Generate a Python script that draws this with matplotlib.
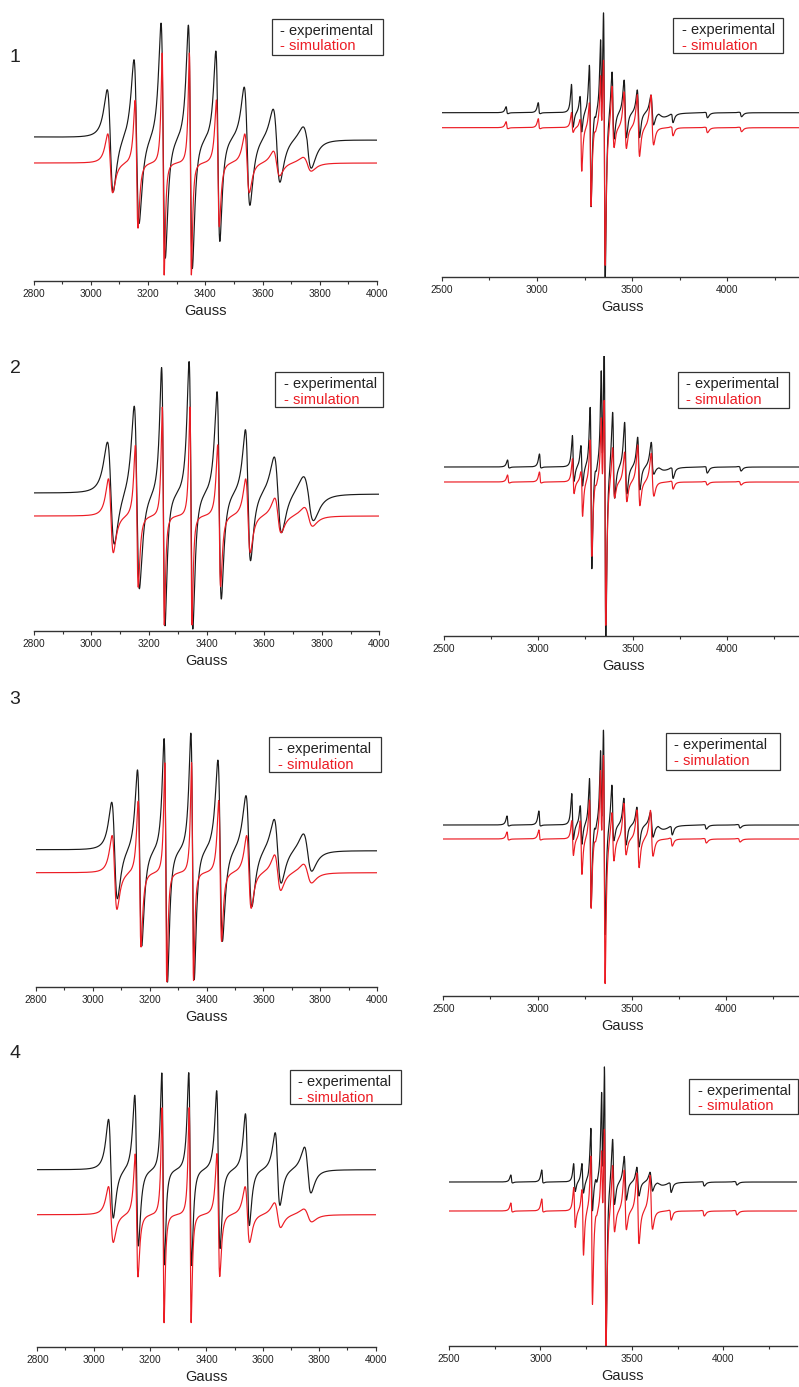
## EPR spectra: experimental vs simulation, four samples

import numpy as np
import matplotlib.pyplot as plt
from matplotlib.patches import Rectangle

plt.rcParams['font.family'] = ['Liberation Sans', 'DejaVu Sans']

W, H = 799, 1387

# ---- room temperature spectra (left column), 8 hyperfine lines ----
rt_centers = [
    [3068, 3160, 3253, 3348, 3444, 3546, 3649, 3756],
    [3068, 3158, 3250, 3346, 3444, 3544, 3648, 3754],
    [3077, 3165, 3257, 3351, 3448, 3549, 3650, 3755],
    [3061, 3152, 3246, 3342, 3442, 3545, 3652, 3759],
]
rt_pp_exp = [
    [21, 18, 15, 14, 14, 20, 24, 29],
    [24, 18, 12, 13, 15, 18, 26, 35],
    [20, 15, 12, 12, 16, 21, 25, 30],
    [17, 13, 9, 10, 12, 14, 17, 23],
]
rt_top_exp = [
    [47, 79, 116, 114, 88, 52, 31, 14],
    [50, 89, 127, 132, 102, 64, 37, 19],
    [47, 81, 112, 117, 90, 55, 32, 18],
    [50, 75, 97, 97, 79, 56, 37, 23],
]
rt_bot_exp = [
    [56, 86, 120, 130, 103, 67, 43, 28],
    [53, 95, 132, 136, 106, 68, 40, 26],
    [50, 96, 132, 130, 92, 57, 33, 20],
    [49, 76, 95, 96, 79, 56, 36, 23],
]
rt_pp_sim = [17, 10, 7, 7, 10, 16, 22, 29]
rt_top_sim = [
    [29, 63, 110, 110, 63, 29, 12, 6],
    [37, 71, 109, 109, 71, 37, 18, 9],
    [37, 72, 110, 110, 72, 37, 18, 9],
    [28, 61, 107, 107, 61, 28, 12, 6],
]
rt_bot_sim = [
    [30, 65, 112, 112, 64, 30, 13, 8],
    [37, 71, 109, 109, 71, 37, 17, 10],
    [37, 74, 109, 108, 69, 36, 18, 10],
    [28, 62, 108, 108, 62, 28, 13, 7],
]
rt_base_exp = [(144, 141), (138, 137), (137, 136), (177, 177)]
rt_base_sim = [118, 115, 114, 132]

# ---- frozen solution spectra (right column) ----
fz_centers = [2843, 3012, 3186, 3231, 3280, 3305, 3338, 3354,
              3400, 3464, 3533, 3606, 3640, 3709, 3889, 4068]
fz_pp = [10, 10, 9, 9, 9, 8, 8, 9, 11, 12, 12, 14, 60, 12, 14, 14]
fz_top_exp = [
    [6, 10, 28, 16, 47, 3, 58, 110, 44, 33, 23, 18, 0, 1, 0.5, 0.5],
    [7, 13, 31, 21, 59, 3, 78, 133, 58, 45, 30, 25, 0, 1, 0.5, 0.5],
    [9, 14, 31, 19, 46, 3, 60, 105, 42, 27, 18, 13, 0, 1, 0.5, 0.5],
    [7, 12, 18, 18, 53, 3, 72, 125, 46, 26, 15, 10, 0, 1, 0.5, 0.5],
]
fz_bot_exp = [
    [1, 1, 15, 20, 95, 3, 30, 170, 25, 25, 25, 12, 4, 8, 5, 4],
    [1, 1, 15, 20, 103, 3, 35, 175, 30, 27, 23, 7, 3, 10, 6, 4],
    [1, 1, 15, 20, 83, 3, 30, 108, 15, 20, 22, 12, 4, 8, 4, 3],
    [1, 1, 10, 12, 30, 3, 30, 170, 21, 18, 14, 9, 3, 9, 4, 3],
]
fz_top_sim = [
    [6, 9, 15, 8, 25, 2, 42, 74, 44, 36, 33, 33, 0, 1, 0.5, 0.5],
    [7, 10, 23, 10, 42, 2, 52, 90, 37, 30, 37, 29, 0, 1, 0.5, 0.5],
    [7, 9, 18, 18, 39, 2, 56, 92, 29, 36, 29, 29, 0, 1, 0.5, 0.5],
    [8, 12, 23, 21, 55, 2, 48, 90, 48, 41, 38, 36, 0, 1, 0.5, 0.5],
]
fz_bot_sim = [
    [1, 1, 5, 44, 79, 2, 20, 137, 19, 21, 29, 17, 0, 8, 5, 4],
    [1, 1, 12, 35, 75, 2, 25, 142, 15, 20, 24, 14, 0, 7, 3, 3],
    [1, 1, 17, 36, 70, 2, 25, 143, 21, 16, 29, 17, 0, 7, 4, 3],
    [1, 1, 17, 45, 94, 2, 25, 140, 20, 19, 33, 18, 0, 9, 5, 4],
]
fz_base_exp = [164, 169, 171, 164]
fz_base_sim = [149, 154, 157, 135]

panel_labels = ['1', '2', '3', '4']

# layout in pixels: (x of first limit, x of last limit, y of axis line)
left_axes = [(33.5, 377, 281), (33.7, 379.3, 631), (35.7, 377.3, 986.7), (37.3, 375.7, 1346.7)]
right_axes = [(441.7, 803.5, 276.7), (443.7, 802.5, 636), (443.3, 801.4, 996), (449, 796.5, 1346)]
label_y = [57, 369, 700, 1053]
legend_boxes = [
    [(272, 19, 111, 36), (673, 18, 110, 35)],
    [(275, 372, 108, 35), (678, 372, 111, 36)],
    [(269, 737, 112, 35), (666, 733, 114, 37)],
    [(290, 1070, 111, 34), (689, 1079, 109, 35)],
]

BLACK = '#1a1a1a'
RED = '#ec1c24'
AX_H = 280


def spectrum(x, centers, pp, tops, bots):
    # sum of first-derivative Lorentzian lines, separate lobe heights
    y = np.zeros_like(x)
    norm = 9 / (16 * np.sqrt(3))
    for c, p, t, b in zip(centers, pp, tops, bots):
        w = p * np.sqrt(3) / 2
        u = (x - c) / w
        g = -u / (1 + u ** 2) ** 2 / norm
        y += np.where(u < 0, t, b) * g
    return y


def make_axes(fig, x0, x1, yax):
    ax = fig.add_axes([x0 / W, 1 - yax / H, (x1 - x0) / W, AX_H / H])
    ax.set_facecolor('none')
    for s in ['top', 'left', 'right']:
        ax.spines[s].set_visible(False)
    ax.spines['bottom'].set_color('#333333')
    ax.spines['bottom'].set_linewidth(1.0)
    ax.set_yticks([])
    ax.set_ylim(0, AX_H)
    ax.tick_params(axis='x', which='major', direction='out', length=2.9, width=0.8,
                   color='#333333', labelsize=7.3, labelcolor='#222222', pad=3.0)
    ax.tick_params(axis='x', which='minor', direction='out', length=2.3, width=0.8,
                   color='#333333')
    ax.set_xlabel('Gauss', fontsize=10.5, color='#222222', labelpad=3.5)
    return ax


def legend(fig, box):
    l, t, w, h = box
    fig.add_artist(Rectangle((l / W, 1 - (t + h) / H), w / W, h / H,
                             transform=fig.transFigure, fill=False,
                             edgecolor='#333333', linewidth=0.9))
    fig.text((l + 8.5) / W, 1 - (t + 12) / H, '- experimental', fontsize=10.5,
             color='#222222', va='center', ha='left')
    fig.text((l + 8.5) / W, 1 - (t + 27.5) / H, '- simulation', fontsize=10.5,
             color=RED, va='center', ha='left')


def plot():
    fig = plt.figure(figsize=(W / 100, H / 100), dpi=100)

    xl = np.linspace(2800, 4000, 4801)
    xr = np.linspace(2500, 4400, 7601)

    for i in range(4):
        # left: room temperature
        x0, x1, yax = left_axes[i]
        ax = make_axes(fig, x0, x1, yax)
        base = np.linspace(rt_base_exp[i][0], rt_base_exp[i][1], len(xl))
        exp = base + spectrum(xl, rt_centers[i], rt_pp_exp[i], rt_top_exp[i], rt_bot_exp[i])
        sim = rt_base_sim[i] + spectrum(xl, rt_centers[i], rt_pp_sim, rt_top_sim[i], rt_bot_sim[i])
        ax.plot(xl, exp, color=BLACK, linewidth=0.85)
        ax.plot(xl, sim, color=RED, linewidth=0.85)
        ax.set_xlim(2800, 4000)
        ax.set_xticks(np.arange(2800, 4001, 200))
        ax.set_xticks(np.arange(2800, 4001, 100), minor=True)

        # right: frozen solution
        x0, x1, yax = right_axes[i]
        ax = make_axes(fig, x0, x1, yax)
        exp = fz_base_exp[i] + spectrum(xr, fz_centers, fz_pp, fz_top_exp[i], fz_bot_exp[i])
        sim = fz_base_sim[i] + spectrum(xr, fz_centers, fz_pp, fz_top_sim[i], fz_bot_sim[i])
        ax.plot(xr, exp, color=BLACK, linewidth=0.85)
        ax.plot(xr, sim, color=RED, linewidth=0.85)
        ax.set_xlim(2500, 4400)
        ax.set_xticks(np.arange(2500, 4001, 500))
        ax.set_xticks(np.arange(2500, 4400, 250), minor=True)

        fig.text(15 / W, 1 - label_y[i] / H, panel_labels[i], fontsize=14,
                 color='#222222', ha='center', va='center')
        legend(fig, legend_boxes[i][0])
        legend(fig, legend_boxes[i][1])

    plt.savefig('out.png', dpi=100)


if __name__ == '__main__':
    plot()
